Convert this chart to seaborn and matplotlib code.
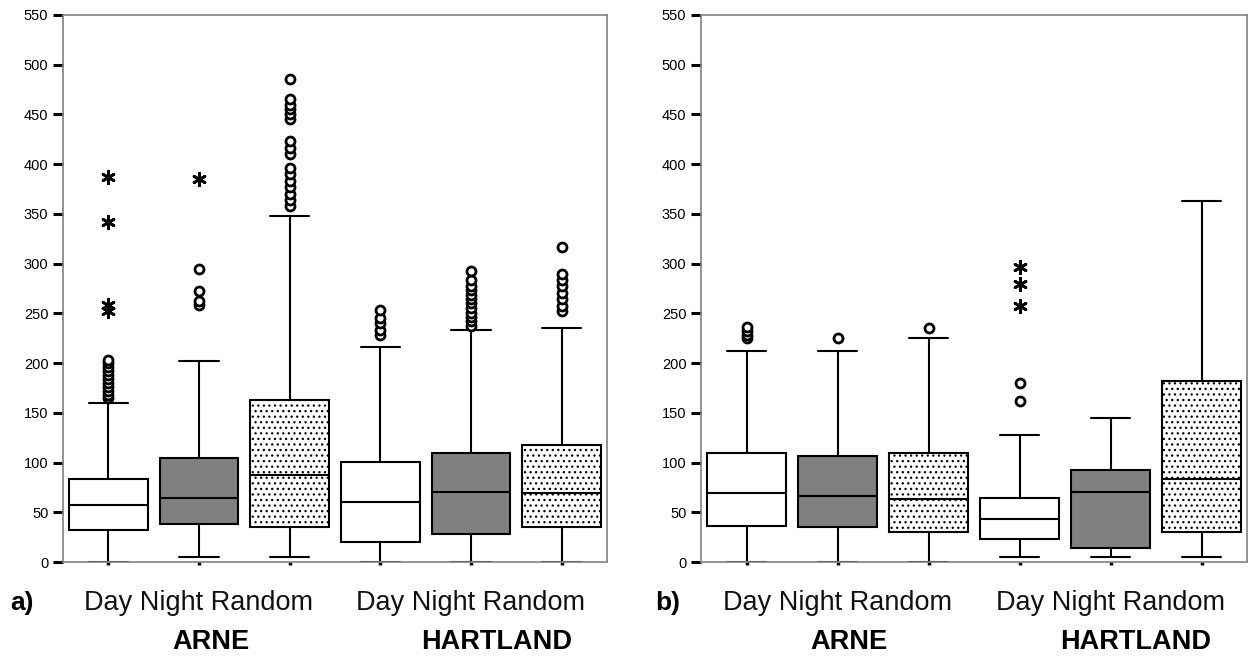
import matplotlib

matplotlib.use("Agg")
import matplotlib.pyplot as plt
import numpy as np
import pandas as pd
import seaborn as sns

sns.set_style(
    "white",
    {
        "xtick.direction": "out",
        "ytick.direction": "out",
        "xtick.bottom": True,
        "ytick.left": True,
        "axes.edgecolor": "#808080",
    },
)
plt.rcParams["font.family"] = ["Liberation Sans", "DejaVu Sans"]
plt.rcParams["hatch.color"] = "black"
plt.rcParams["hatch.linewidth"] = 0.9

sites = ["ARNE", "HARTLAND"]
conditions = ["Day", "Night", "Random"]
keys = [f"{s} {c}" for s in sites for c in conditions]

# five-number summaries (whisker low, q1, median, q3, whisker high)
lo_a = [0, 5, 5, 0, 0, 0]
q1_a = [32, 38, 35.5, 20.4, 27.8, 35.5]
med_a = [57, 64.7, 87.5, 60.6, 70, 69]
q3_a = [83, 104.6, 163, 101, 110, 118]
hi_a = [160, 202, 348, 216, 233, 235]

lo_b = [0, 0, 0, 5, 5, 5]
q1_b = [36, 35.5, 30.5, 22.8, 14.5, 30.5]
med_b = [69, 66, 63, 43, 70, 83.5]
q3_b = [110, 107, 110, 64, 93, 182]
hi_b = [212, 212, 225.5, 127.7, 145, 363]

# outliers (circles) and extreme values (asterisks), one list per box
circles_a = [
    [165, 168, 172, 176, 180, 184, 188, 192, 196, 200, 203],
    [258, 262, 272, 295],
    [358, 364, 370, 377, 383, 390, 396, 410, 416, 423, 445, 450, 455, 460, 466, 486],
    [228, 233, 240, 245, 253],
    [237, 242, 246, 250, 255, 260, 264, 268, 273, 278, 284, 293],
    [252, 257, 264, 270, 278, 284, 290, 317],
]
stars_a = [[252, 258, 342, 387], [385], [], [], [], []]

circles_b = [[225, 228, 232, 236], [225], [235], [162, 180], [], []]
stars_b = [[], [], [], [257, 280, 297], [], []]

palette = {k: ("#808080" if k.endswith("Night") else "white") for k in keys}


def summary_frame(lo, q1, med, q3, hi):
    rows = []
    for k, vals in zip(keys, zip(lo, q1, med, q3, hi)):
        rows += [{"key": k, "value": v} for v in vals]
    return pd.DataFrame(rows)


def panel(ax, stats, circles, stars, letter, letter_x):
    df = summary_frame(*stats)
    sns.boxplot(
        data=df,
        x="key",
        y="value",
        hue="key",
        order=keys,
        hue_order=keys,
        palette=palette,
        dodge=False,
        saturation=1,
        width=0.87,
        whis=(0, 100),
        linecolor="black",
        linewidth=1.5,
        legend=False,
        ax=ax,
    )
    for p in ax.patches:
        xc = np.mean(p.get_path().vertices[:, 0])
        idx = int(round(xc))
        if 0 <= idx < len(keys) and keys[idx].endswith("Random"):
            p.set_hatch("...")

    for i, (circ, star) in enumerate(zip(circles, stars)):
        if circ:
            ax.scatter([i] * len(circ), circ, s=42, facecolors="white",
                       edgecolors="black", linewidths=2.0, zorder=5)
        if star:
            ax.scatter([i] * len(star), star, s=80, marker=(6, 2, 0),
                       color="black", linewidths=2.0, zorder=5)

    ax.set_ylim(0, 550)
    ax.set_xlim(-0.5, 5.5)
    ax.set_yticks(np.arange(0, 551, 50))
    ax.set_xticks(range(6))
    ax.set_xticklabels([""] * 6)
    ax.set_xlabel("")
    ax.set_ylabel("")
    ax.tick_params(axis="y", left=True, length=7.5, width=2.2, color="black",
                   labelsize=10.5, labelcolor="black", pad=3)
    ax.tick_params(axis="x", bottom=True, length=2, width=2.5, color="black")
    for sp in ax.spines.values():
        sp.set_linewidth(1.2)
        sp.set_color("#808080")

    trans = ax.get_xaxis_transform()
    for gx, name, nx in [(1, "ARNE", 1.13), (4, "HARTLAND", 4.28)]:
        ax.annotate("Day Night Random", xy=(gx, 0), xycoords=trans,
                    xytext=(0, -29.5), textcoords="offset points",
                    ha="center", va="center", fontsize=19.5, color="#111111")
        ax.annotate(name, xy=(nx, 0), xycoords=trans,
                    xytext=(0, -57.5), textcoords="offset points",
                    ha="center", va="center", fontsize=19.5, fontweight="bold",
                    color="black")
    ax.figure.text(letter_x, 1 - 603 / 657, letter, ha="center", va="center",
                   fontsize=19, fontweight="bold", color="black")


fig = plt.figure(figsize=(12.56, 6.57), dpi=100)
ax1 = fig.add_axes([63 / 1256, 95 / 657, 544 / 1256, 547 / 657])
ax2 = fig.add_axes([701 / 1256, 95 / 657, 546 / 1256, 547 / 657])

panel(ax1, (lo_a, q1_a, med_a, q3_a, hi_a), circles_a, stars_a, "a)", 22 / 1256)
panel(ax2, (lo_b, q1_b, med_b, q3_b, hi_b), circles_b, stars_b, "b)", 668 / 1256)

fig.savefig("out.png", dpi=100)
